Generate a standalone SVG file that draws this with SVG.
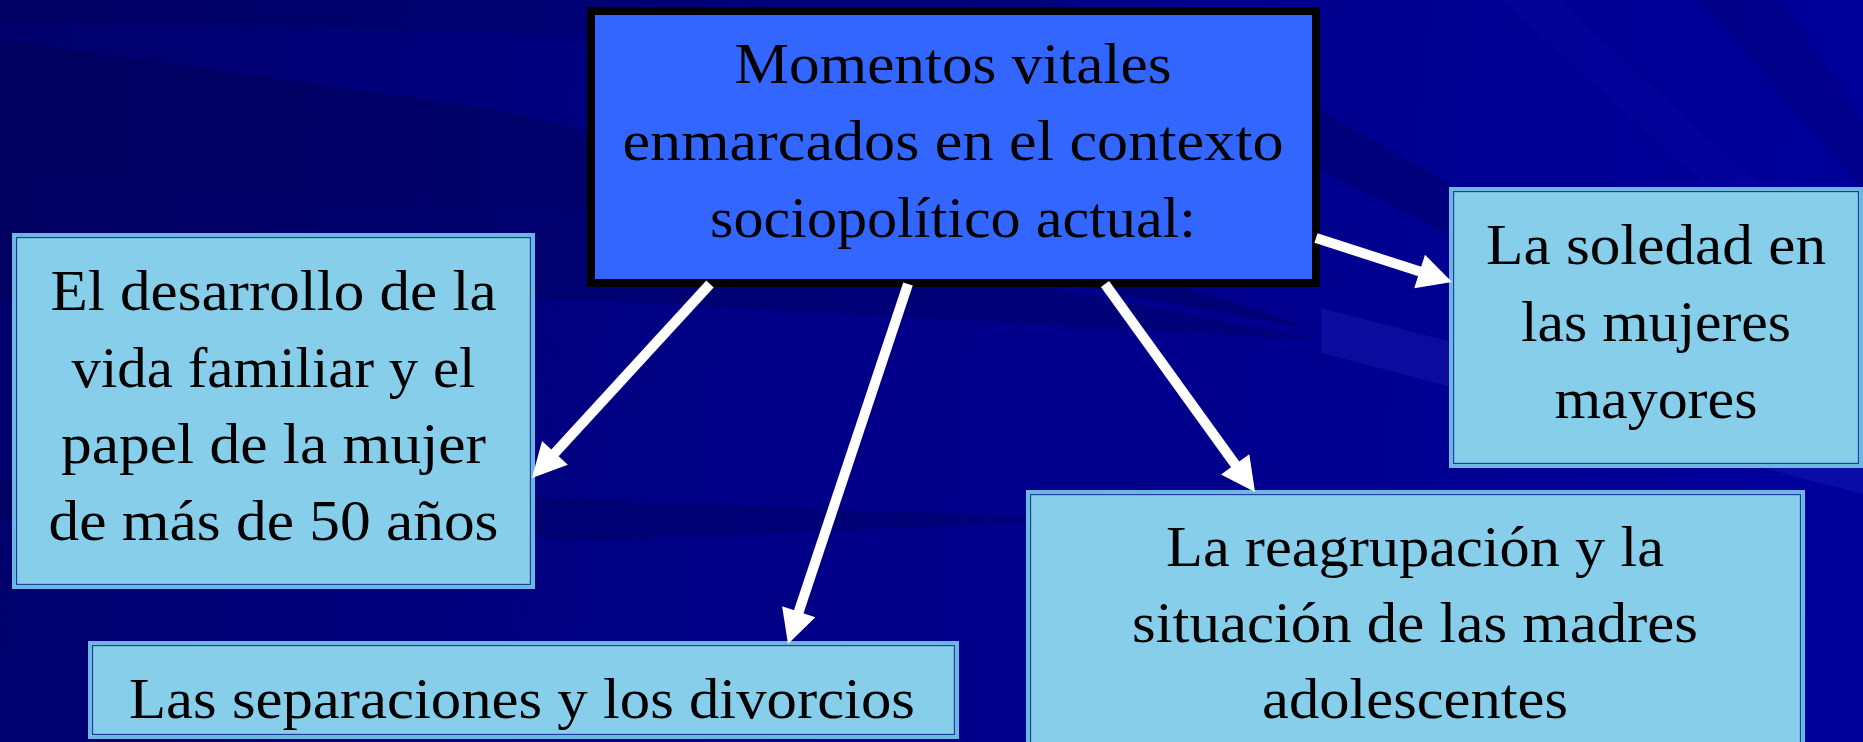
<svg xmlns="http://www.w3.org/2000/svg" width="1863" height="742" viewBox="0 0 1863 742">
  <defs>
    <linearGradient id="bg" x1="0" y1="200" x2="1863" y2="400" gradientUnits="userSpaceOnUse">
      <stop offset="0" stop-color="#00006C"/>
      <stop offset="0.4" stop-color="#000086"/>
      <stop offset="0.7" stop-color="#00008E"/>
      <stop offset="1" stop-color="#00009C"/>
    </linearGradient>
    <marker id="ah" markerUnits="userSpaceOnUse" markerWidth="40" markerHeight="40" refX="2" refY="0" orient="auto" viewBox="0 -20 40 40" overflow="visible">
      <path d="M0,-17.5 L34,0 L0,17.5 z" fill="#FFFFFF"/>
    </marker>
    <style>
      .t { font-family: "Liberation Serif", "Times New Roman", serif; font-size: 58px; fill: #000000; text-anchor: middle; }
      .box { fill: #87CEEB; stroke: #6CB6E6; stroke-width: 3; }
      .inner { fill: none; stroke: #1E3C9A; stroke-width: 1.3; }
      .main { fill: #3366FF; stroke: #000000; stroke-width: 8; }
      .conn { stroke: #FFFFFF; stroke-width: 10; fill: none; marker-end: url(#ah); }
    </style>
  </defs>

  <!-- background -->
  <rect x="0" y="0" width="1863" height="742" fill="url(#bg)"/>
  <polygon points="0,40 500,110 1000,230 1320,330 700,220 0,170" fill="#000040" opacity="0.3"/>
  <polygon points="0,170 700,220 1320,340 600,300 0,300" fill="#000040" opacity="0.25"/>
  <polygon points="0,0 1050,0 1320,80 800,40 0,20" fill="#000040" opacity="0.2"/>
  <polygon points="0,480 600,500 1100,520 600,540 0,520" fill="#000050" opacity="0.3"/>
  <polygon points="1321,308 1863,449 1863,494 1321,353" fill="#3030D0" opacity="0.22"/>
  <polygon points="1320,110 1460,190 1460,240 1320,170" fill="#000050" opacity="0.3"/>
  <polygon points="1700,0 1780,0 1863,120 1863,190" fill="#000050" opacity="0.2"/>
  <polygon points="1500,0 1560,0 1863,280 1863,330" fill="#2020C0" opacity="0.1"/>

  <!-- nodes -->
  <g id="node-main">
    <rect class="main" x="591" y="11" width="725" height="272"/>
    <text class="t" x="953" y="83" textLength="437" lengthAdjust="spacingAndGlyphs">Momentos vitales</text>
    <text class="t" x="953" y="160" textLength="661" lengthAdjust="spacingAndGlyphs">enmarcados en el contexto</text>
    <text class="t" x="953" y="237" textLength="486" lengthAdjust="spacingAndGlyphs">sociopolítico actual:</text>
  </g>

  <g id="node-familiar">
    <rect class="box" x="13.5" y="234.5" width="520" height="353"/>
    <rect class="inner" x="16.5" y="237.5" width="514" height="347"/>
    <text class="t" x="273.5" y="310" textLength="446" lengthAdjust="spacingAndGlyphs">El desarrollo de la</text>
    <text class="t" x="273.5" y="387" textLength="404" lengthAdjust="spacingAndGlyphs">vida familiar y el</text>
    <text class="t" x="273.5" y="463" textLength="425" lengthAdjust="spacingAndGlyphs">papel de la mujer</text>
    <text class="t" x="273.5" y="540" textLength="450" lengthAdjust="spacingAndGlyphs">de más de 50 años</text>
  </g>

  <g id="node-separaciones">
    <rect class="box" x="89.5" y="642.5" width="868" height="95"/>
    <rect class="inner" x="92.5" y="645.5" width="862" height="89"/>
    <text class="t" x="522" y="718" textLength="786" lengthAdjust="spacingAndGlyphs">Las separaciones y los divorcios</text>
  </g>

  <g id="node-soledad">
    <rect class="box" x="1450.5" y="188.5" width="411" height="278"/>
    <rect class="inner" x="1453.5" y="191.5" width="405" height="272"/>
    <text class="t" x="1656" y="264" textLength="340" lengthAdjust="spacingAndGlyphs">La soledad en</text>
    <text class="t" x="1656" y="341" textLength="270" lengthAdjust="spacingAndGlyphs">las mujeres</text>
    <text class="t" x="1656" y="418" textLength="203" lengthAdjust="spacingAndGlyphs">mayores</text>
  </g>

  <g id="node-reagrupacion">
    <rect class="box" x="1027.5" y="491.5" width="776" height="260"/>
    <rect class="inner" x="1030.5" y="494.5" width="770" height="254"/>
    <text class="t" x="1415" y="566" textLength="498" lengthAdjust="spacingAndGlyphs">La reagrupación y la</text>
    <text class="t" x="1415" y="642" textLength="566" lengthAdjust="spacingAndGlyphs">situación de las madres</text>
    <text class="t" x="1415" y="718" textLength="306" lengthAdjust="spacingAndGlyphs">adolescentes</text>
  </g>

  <!-- connectors -->
  <g id="connectors">
    <line class="conn" x1="710" y1="284" x2="553.6" y2="454.4"/>
    <line class="conn" x1="908" y1="284" x2="798.1" y2="613.6"/>
    <line class="conn" x1="1105" y1="284" x2="1236.3" y2="466"/>
    <line class="conn" x1="1316" y1="238" x2="1421.5" y2="272.1"/>
  </g>
</svg>
